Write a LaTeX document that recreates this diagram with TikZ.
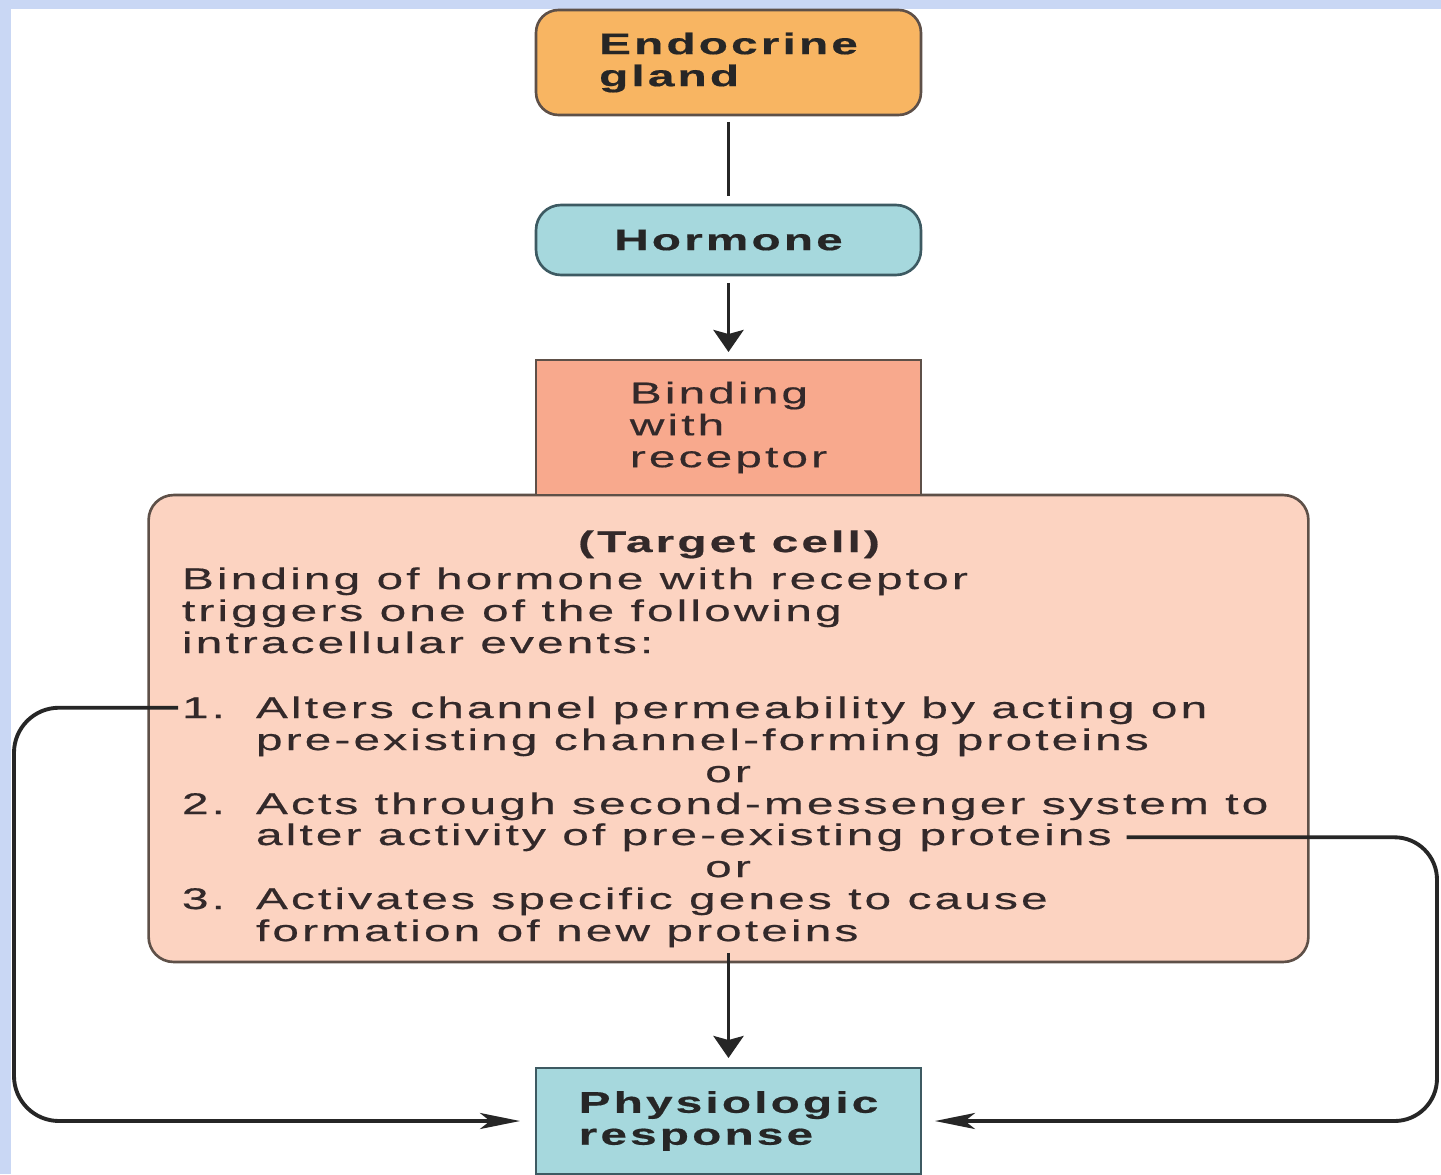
\documentclass[tikz,border=0pt]{standalone}
\usepackage{fontspec}
\setmainfont{Liberation Sans}[FakeStretch=1.6, LetterSpace=10.5, FakeBold=0.5]
\usetikzlibrary{arrows.meta}
\definecolor{bgblue}{HTML}{C9D7F4}
\definecolor{orangefill}{HTML}{F8B562}
\definecolor{tealfill}{HTML}{A6D8DD}
\definecolor{salmonfill}{HTML}{F8A98D}
\definecolor{peachfill}{HTML}{FCD3C1}
\definecolor{edgebrown}{HTML}{5E5048}
\definecolor{edgeteal}{HTML}{3D5A62}
\definecolor{inkc}{HTML}{262626}
\definecolor{inkb}{HTML}{33292A}
\begin{document}
\begin{tikzpicture}[x=0.02cm,y=-0.02cm,
  every node/.style={inner sep=0pt, outer sep=0pt, text=inkc, font=\fontsize{17pt}{18.2pt}\selectfont},
  box/.style={draw, line width=1.5pt, align=left, minimum width=7.7cm},
  boldtext/.style={font=\fontsize{17pt}{18.2pt}\selectfont\bfseries},
  conn/.style={line width=2.2pt, draw=black!85},
  downtip/.style={-{Stealth[length=0.44cm,width=0.6cm,inset=0.08cm]}},
  sidetip/.style={-{Stealth[length=0.8cm,width=0.32cm,inset=0.2cm]}},
  txt/.style={anchor=base west, text=inkb},
]
\useasboundingbox (0,0) rectangle (1441,1174);
\fill[bgblue] (0,0) rectangle (1441,1174);
\fill[white] (11,9) rectangle (1441,1174);

% boxes
\node[box, boldtext, fill=orangefill, draw=edgebrown, rounded corners=0.45cm, minimum height=2.1cm] (gland) at (728.5,62.5) {Endocrine\\gland};
\node[box, boldtext, fill=tealfill, draw=edgeteal, rounded corners=0.5cm, minimum height=1.4cm] (hormone) at (728.5,240) {Hormone};
\node[box, fill=peachfill, draw=edgebrown, rounded corners=0.5cm, minimum width=23.2cm, minimum height=9.34cm] (target) at (728.5,728.5) {};
\node[box, fill=salmonfill, draw=edgebrown, minimum height=2.7cm, text=inkb] (binding) at (728.5,427.5) {Binding\\with\\receptor};
\node[box, boldtext, fill=tealfill, draw=edgeteal, minimum height=2.12cm] (physio) at (728.5,1121) {Physiologic\\response};

% target cell text
\node[boldtext, anchor=base, text=inkb] (tc) at (729,552) {(Target cell)};
\node[txt] (l1) at (182,589) {Binding of hormone with receptor};
\node[txt] (l2) at (182,621) {triggers one of the following};
\node[txt] (l3) at (182,653) {intracellular events:};
\node[txt] (n1) at (182,718) {1.};
\node[txt] (i1a) at (256,718) {Alters channel permeability by acting on};
\node[txt] (i1b) at (256,750) {pre-existing channel-forming proteins};
\node[anchor=base, text=inkb] (or1) at (728,782) {or};
\node[txt] (n2) at (182,814) {2.};
\node[txt] (i2a) at (256,814) {Acts through second-messenger system to};
\node[txt] (i2b) at (256,845) {alter activity of pre-existing proteins};
\node[anchor=base, text=inkb] (or2) at (728,877) {or};
\node[txt] (n3) at (182,909) {3.};
\node[txt] (i3a) at (256,909) {Activates specific genes to cause};
\node[txt] (i3b) at (256,941) {formation of new proteins};

% connectors
\draw[conn] ([yshift=-0.14cm]gland.south) -- ([yshift=0.18cm]hormone.north);
\draw[conn, downtip] ([yshift=-0.16cm]hormone.south) -- ([yshift=0.16cm]binding.north);
\draw[conn, downtip] ([yshift=0.18cm]target.south) -- ([yshift=0.2cm]physio.north);

\coordinate (lc) at (14,1121);
\coordinate (rc) at (1437,1121);
\draw[conn, sidetip, rounded corners=0.9cm] ([xshift=-0.08cm]n1.west) -| (lc) -- ([xshift=-0.32cm]physio.west);
\draw[conn, sidetip, rounded corners=0.85cm] ([xshift=0.3cm]i2b.east) -| (rc) -- ([xshift=0.28cm]physio.east);
\end{tikzpicture}
\end{document}
